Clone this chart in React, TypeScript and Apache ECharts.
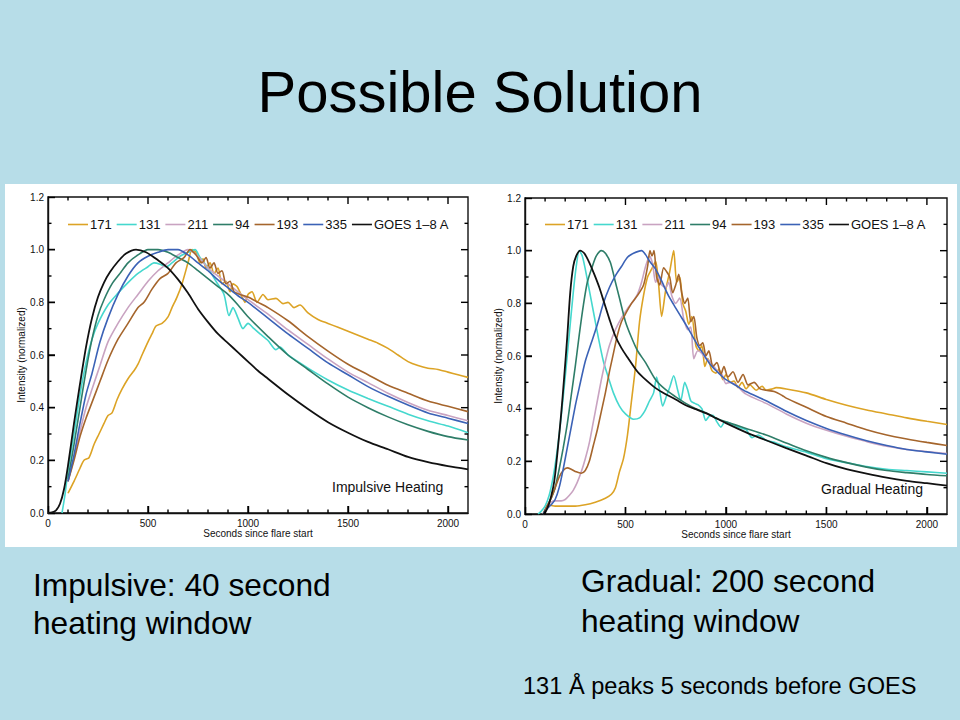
import React, { useEffect, useRef } from "react";
import * as echarts from "echarts";

// ---------- axis settings ----------
const TIME_MIN = 0;
const TIME_MAX = 2100;
const TIME_MAJOR = 500;
const INT_MIN = 0;
const INT_MAX = 1.2;
const INT_MAJOR = 0.2;
// tick marks (major every 500 s / 0.2, minor every 100 s / 0.1)
const TIME_TICKS = [100, 200, 300, 400, 500, 600, 700, 800, 900, 1000, 1100, 1200, 1300, 1400, 1500, 1600, 1700, 1800, 1900, 2000];
const INT_TICKS = [0.1, 0.2, 0.3, 0.4, 0.5, 0.6, 0.7, 0.8, 0.9, 1.0, 1.1];

// ---------- legend / series ----------
const BANDS = ["171", "131", "211", "94", "193", "335", "GOES 1–8 A"];
const BAND_COLORS = ["#DCA325", "#45D8CE", "#C9A3C1", "#2E7D68", "#A5652C", "#3B62B6", "#111111"];

// ---------- Impulsive heating (left panel) : [seconds, normalized intensity] ----------
const IMP_171 = [
  [100, 0.075], [130, 0.12], [160, 0.17], [180, 0.2], [205, 0.21], [230, 0.26], [255, 0.3], [280, 0.34],
  [300, 0.37], [320, 0.38], [345, 0.43], [370, 0.47], [400, 0.51], [430, 0.54], [450, 0.565], [470, 0.6],
  [500, 0.65], [520, 0.68], [540, 0.71], [570, 0.72], [600, 0.745], [620, 0.78], [645, 0.82], [670, 0.87],
  [700, 0.95], [720, 1.0], [740, 0.99], [760, 0.95], [775, 0.965], [790, 0.93], [810, 0.95], [830, 0.91],
  [850, 0.93], [870, 0.87], [890, 0.88], [910, 0.84], [925, 0.87], [945, 0.86], [965, 0.83], [985, 0.8],
  [1000, 0.83], [1020, 0.84], [1045, 0.8], [1075, 0.83], [1100, 0.81], [1140, 0.815], [1175, 0.795],
  [1200, 0.8], [1230, 0.78], [1260, 0.79], [1300, 0.76], [1350, 0.735], [1400, 0.72], [1450, 0.705],
  [1500, 0.69], [1550, 0.675], [1600, 0.66], [1650, 0.645], [1700, 0.625], [1750, 0.6], [1800, 0.575],
  [1850, 0.56], [1900, 0.55], [1950, 0.545], [2000, 0.535], [2050, 0.525], [2100, 0.515],
];
const IMP_131 = [
  [70, 0], [85, 0.07], [100, 0.16], [130, 0.3], [160, 0.45], [190, 0.57], [220, 0.66], [250, 0.72],
  [300, 0.79], [350, 0.835], [400, 0.875], [450, 0.91], [500, 0.935], [530, 0.95], [560, 0.945],
  [590, 0.935], [620, 0.95], [660, 0.975], [700, 0.99], [735, 1.0], [760, 0.97], [800, 0.93], [840, 0.88],
  [880, 0.83], [905, 0.75], [925, 0.78], [950, 0.74], [975, 0.7], [1000, 0.72], [1030, 0.7], [1060, 0.68],
  [1100, 0.655], [1140, 0.62], [1160, 0.63], [1200, 0.6], [1300, 0.55], [1400, 0.505], [1500, 0.467],
  [1600, 0.435], [1700, 0.405], [1800, 0.375], [1900, 0.35], [2000, 0.33], [2100, 0.305],
];
const IMP_211 = [
  [100, 0.12], [130, 0.21], [160, 0.31], [190, 0.4], [220, 0.47], [260, 0.56], [300, 0.65], [350, 0.72],
  [400, 0.78], [450, 0.83], [500, 0.88], [550, 0.92], [600, 0.95], [650, 0.98], [700, 1.0], [750, 0.975],
  [800, 0.93], [850, 0.9], [900, 0.87], [950, 0.84], [1000, 0.81], [1100, 0.755], [1200, 0.695],
  [1300, 0.64], [1400, 0.585], [1500, 0.535], [1600, 0.495], [1700, 0.455], [1800, 0.42], [1900, 0.39],
  [2000, 0.37], [2100, 0.35],
];
const IMP_94 = [
  [100, 0.13], [130, 0.26], [160, 0.4], [190, 0.54], [220, 0.66], [250, 0.75], [280, 0.81], [320, 0.87],
  [360, 0.91], [400, 0.95], [450, 0.98], [500, 1.0], [550, 1.0], [600, 0.99], [650, 0.97], [700, 0.95],
  [750, 0.92], [800, 0.89], [850, 0.86], [900, 0.83], [950, 0.79], [1000, 0.745], [1100, 0.67],
  [1200, 0.6], [1300, 0.545], [1400, 0.49], [1500, 0.44], [1600, 0.4], [1700, 0.365], [1800, 0.335],
  [1900, 0.31], [2000, 0.29], [2100, 0.277],
];
const IMP_193 = [
  [100, 0.12], [130, 0.2], [160, 0.29], [190, 0.36], [220, 0.42], [260, 0.5], [300, 0.58], [350, 0.66],
  [400, 0.72], [450, 0.78], [480, 0.8], [520, 0.85], [560, 0.89], [600, 0.91], [640, 0.95], [680, 0.97],
  [710, 1.0], [740, 0.98], [770, 0.95], [790, 0.97], [810, 0.93], [830, 0.95], [850, 0.91], [870, 0.92],
  [890, 0.87], [910, 0.88], [930, 0.84], [960, 0.83], [1000, 0.82], [1050, 0.8], [1100, 0.78],
  [1200, 0.73], [1300, 0.67], [1400, 0.615], [1500, 0.565], [1600, 0.525], [1700, 0.485], [1800, 0.455],
  [1900, 0.425], [2000, 0.405], [2100, 0.385],
];
const IMP_335 = [
  [100, 0.12], [130, 0.22], [160, 0.34], [190, 0.45], [220, 0.53], [260, 0.65], [300, 0.74], [350, 0.83],
  [400, 0.9], [450, 0.95], [500, 0.975], [550, 0.99], [600, 1.0], [650, 1.0], [700, 0.98], [750, 0.95],
  [800, 0.92], [850, 0.885], [900, 0.855], [950, 0.825], [1000, 0.8], [1100, 0.74], [1200, 0.68],
  [1300, 0.625], [1400, 0.57], [1500, 0.525], [1600, 0.48], [1700, 0.443], [1800, 0.41], [1900, 0.38],
  [2000, 0.36], [2100, 0.34],
];
const IMP_GOES = [
  [0, 0], [20, 0.002], [40, 0.01], [60, 0.035], [80, 0.09], [100, 0.18], [130, 0.34], [160, 0.49],
  [190, 0.63], [220, 0.74], [250, 0.82], [280, 0.875], [310, 0.915], [350, 0.955], [390, 0.985],
  [440, 1.0], [490, 0.99], [550, 0.96], [600, 0.93], [650, 0.887], [700, 0.835], [750, 0.775],
  [800, 0.725], [850, 0.68], [900, 0.645], [950, 0.61], [1000, 0.575], [1050, 0.54], [1100, 0.51],
  [1200, 0.45], [1300, 0.395], [1400, 0.345], [1500, 0.305], [1600, 0.27], [1700, 0.242], [1800, 0.213],
  [1900, 0.193], [2000, 0.178], [2100, 0.166],
];

// ---------- Gradual heating (right panel) ----------
const GRAD_171 = [
  [115, 0.035], [150, 0.03], [200, 0.03], [250, 0.03], [300, 0.035], [350, 0.045], [400, 0.06],
  [430, 0.075], [450, 0.1], [470, 0.16], [490, 0.21], [510, 0.3], [530, 0.43], [550, 0.56], [570, 0.73],
  [590, 0.83], [610, 0.9], [630, 0.93], [650, 0.96], [665, 0.87], [680, 0.75], [700, 0.85], [720, 0.92],
  [740, 1.0], [755, 0.88], [770, 0.9], [785, 0.8], [800, 0.77], [815, 0.72], [830, 0.75], [850, 0.64],
  [865, 0.62], [880, 0.64], [895, 0.56], [910, 0.59], [930, 0.545], [950, 0.535], [965, 0.55],
  [985, 0.51], [1000, 0.53], [1020, 0.5], [1040, 0.505], [1060, 0.48], [1080, 0.5], [1100, 0.475],
  [1120, 0.49], [1150, 0.47], [1180, 0.485], [1200, 0.47], [1230, 0.475], [1250, 0.48], [1300, 0.475],
  [1400, 0.46], [1500, 0.435], [1600, 0.413], [1700, 0.395], [1800, 0.38], [1900, 0.365], [2000, 0.352],
  [2100, 0.34],
];
const GRAD_131 = [
  [65, 0], [80, 0.01], [100, 0.03], [120, 0.07], [140, 0.14], [160, 0.24], [180, 0.37], [200, 0.52],
  [220, 0.68], [240, 0.84], [255, 0.94], [270, 1.0], [285, 0.98], [300, 0.93], [320, 0.85], [340, 0.77],
  [365, 0.67], [390, 0.58], [410, 0.53], [440, 0.46], [470, 0.41], [500, 0.38], [540, 0.36], [570, 0.365],
  [595, 0.39], [620, 0.43], [640, 0.46], [655, 0.52], [670, 0.47], [685, 0.41], [705, 0.45], [720, 0.48],
  [740, 0.525], [760, 0.47], [775, 0.43], [795, 0.5], [810, 0.47], [825, 0.43], [845, 0.42], [860, 0.415],
  [880, 0.4], [900, 0.355], [915, 0.37], [935, 0.375], [955, 0.35], [975, 0.33], [995, 0.35],
  [1020, 0.345], [1060, 0.33], [1100, 0.32], [1130, 0.29], [1160, 0.3], [1200, 0.28], [1250, 0.27],
  [1300, 0.255], [1350, 0.245], [1400, 0.235], [1500, 0.21], [1600, 0.195], [1700, 0.18], [1800, 0.17],
  [1900, 0.165], [2000, 0.16], [2100, 0.155],
];
const GRAD_211 = [
  [90, 0], [110, 0.03], [130, 0.045], [150, 0.05], [180, 0.05], [200, 0.055], [220, 0.07], [240, 0.09],
  [260, 0.12], [280, 0.16], [300, 0.21], [320, 0.27], [340, 0.35], [360, 0.43], [380, 0.51], [400, 0.58],
  [420, 0.64], [450, 0.7], [480, 0.745], [510, 0.78], [540, 0.81], [560, 0.835], [580, 0.88], [600, 0.94],
  [620, 0.98], [635, 0.95], [650, 0.88], [665, 0.9], [680, 0.87], [700, 0.86], [715, 0.88], [730, 0.83],
  [750, 0.8], [770, 0.82], [790, 0.74], [810, 0.7], [825, 0.71], [840, 0.59], [860, 0.62], [880, 0.61],
  [900, 0.59], [920, 0.58], [940, 0.56], [960, 0.54], [980, 0.53], [1000, 0.495], [1020, 0.5],
  [1050, 0.49], [1100, 0.455], [1200, 0.42], [1300, 0.38], [1400, 0.345], [1500, 0.318], [1600, 0.295],
  [1700, 0.275], [1800, 0.257], [1900, 0.245], [2000, 0.237], [2100, 0.23],
];
const GRAD_94 = [
  [90, 0], [110, 0.03], [130, 0.06], [150, 0.1], [170, 0.17], [190, 0.25], [210, 0.34], [230, 0.45],
  [250, 0.56], [270, 0.68], [290, 0.79], [310, 0.88], [335, 0.94], [355, 0.98], [380, 1.0], [400, 0.99],
  [425, 0.955], [450, 0.88], [470, 0.82], [500, 0.73], [530, 0.67], [560, 0.62], [600, 0.575], [650, 0.51],
  [700, 0.472], [750, 0.445], [800, 0.42], [850, 0.4], [900, 0.385], [950, 0.365], [1000, 0.35],
  [1100, 0.325], [1200, 0.3], [1300, 0.27], [1400, 0.24], [1500, 0.215], [1600, 0.195], [1700, 0.178],
  [1800, 0.165], [1900, 0.157], [2000, 0.15], [2100, 0.145],
];
const GRAD_193 = [
  [90, 0], [110, 0.03], [130, 0.06], [150, 0.1], [170, 0.14], [190, 0.165], [210, 0.175], [230, 0.17],
  [255, 0.16], [280, 0.155], [300, 0.165], [320, 0.2], [340, 0.26], [360, 0.32], [380, 0.39], [400, 0.46],
  [420, 0.54], [440, 0.61], [460, 0.68], [480, 0.73], [500, 0.76], [530, 0.8], [560, 0.83], [590, 0.87],
  [610, 0.94], [622, 1.0], [632, 0.98], [642, 1.0], [655, 0.9], [670, 0.87], [690, 0.935], [705, 0.92],
  [720, 0.9], [735, 0.84], [750, 0.87], [765, 0.91], [780, 0.84], [795, 0.8], [810, 0.82], [825, 0.73],
  [840, 0.75], [855, 0.67], [870, 0.64], [885, 0.65], [900, 0.6], [915, 0.62], [935, 0.56], [955, 0.575],
  [975, 0.53], [990, 0.56], [1010, 0.52], [1035, 0.54], [1060, 0.5], [1085, 0.53], [1110, 0.49],
  [1140, 0.5], [1170, 0.475], [1200, 0.47], [1240, 0.465], [1280, 0.45], [1300, 0.44], [1400, 0.405],
  [1500, 0.37], [1600, 0.345], [1700, 0.32], [1800, 0.3], [1900, 0.285], [2000, 0.272], [2100, 0.26],
];
const GRAD_335 = [
  [90, 0], [110, 0.02], [130, 0.035], [150, 0.055], [170, 0.1], [190, 0.17], [210, 0.25], [230, 0.33],
  [250, 0.41], [270, 0.48], [300, 0.58], [330, 0.65], [360, 0.72], [390, 0.8], [420, 0.86], [450, 0.905],
  [480, 0.94], [510, 0.975], [540, 0.99], [580, 1.0], [600, 0.985], [620, 0.96], [650, 0.93], [680, 0.885],
  [710, 0.835], [740, 0.795], [770, 0.757], [800, 0.72], [830, 0.68], [860, 0.64], [890, 0.605],
  [920, 0.57], [950, 0.545], [980, 0.523], [1000, 0.51], [1050, 0.488], [1100, 0.465], [1200, 0.43],
  [1300, 0.39], [1400, 0.355], [1500, 0.325], [1600, 0.3], [1700, 0.278], [1800, 0.26], [1900, 0.245],
  [2000, 0.236], [2100, 0.227],
];
const GRAD_GOES = [
  [90, 0], [100, 0.005], [120, 0.04], [140, 0.1], [150, 0.15], [165, 0.26], [180, 0.38], [195, 0.52],
  [210, 0.67], [225, 0.84], [240, 0.94], [255, 0.98], [275, 1.0], [295, 0.99], [320, 0.955], [345, 0.91],
  [370, 0.86], [395, 0.8], [420, 0.74], [450, 0.675], [480, 0.63], [510, 0.595], [560, 0.54], [600, 0.51],
  [650, 0.478], [700, 0.455], [750, 0.435], [800, 0.413], [850, 0.398], [900, 0.383], [950, 0.364],
  [1000, 0.345], [1100, 0.31], [1200, 0.28], [1300, 0.25], [1400, 0.222], [1500, 0.193], [1600, 0.17],
  [1700, 0.153], [1800, 0.138], [1900, 0.126], [2000, 0.117], [2100, 0.108],
];

const IMPULSIVE = [IMP_171, IMP_131, IMP_211, IMP_94, IMP_193, IMP_335, IMP_GOES];
const GRADUAL = [GRAD_171, GRAD_131, GRAD_211, GRAD_94, GRAD_193, GRAD_335, GRAD_GOES];

const PANEL_LABELS = ["Impulsive Heating", "Gradual Heating"];
const TITLE = "Possible Solution";
const NOTE_LEFT = ["Impulsive: 40 second", "heating window"];
const NOTE_RIGHT = ["Gradual: 200 second", "heating window"];
const FOOTNOTE = "131 Å peaks 5 seconds before GOES";

const FONT = "'Liberation Sans', Arial, Helvetica, sans-serif";
const BG = "#B7DDE8";
const INK = "#111111";

const GRIDS = [
  { left: 48, top: 197, width: 420, height: 316 },
  { left: 525, top: 198, width: 422, height: 316 },
];

const MAJOR_LEN = 7;
const MINOR_LEN = 3.5;

function tickLine(x1: number, y1: number, x2: number, y2: number) {
  return {
    type: "line",
    silent: true,
    z: 50,
    shape: { x1, y1, x2, y2 },
    style: { stroke: "#000000", lineWidth: 1.4 },
  };
}

export default function App() {
  const ref = useRef<HTMLDivElement>(null);

  useEffect(() => {
    if (!ref.current) return;
    const chart = echarts.init(ref.current, undefined, { renderer: "svg" });

    const xAxes = GRIDS.map((_, g) => ({
      type: "value",
      gridIndex: g,
      position: "bottom",
      min: TIME_MIN,
      max: TIME_MAX,
      interval: TIME_MAJOR,
      name: "Seconds since flare start",
      nameLocation: "middle",
      nameGap: 15,
      nameTextStyle: { fontFamily: FONT, fontSize: 10, color: INK },
      axisLine: { show: true, onZero: false, lineStyle: { color: INK, width: 1.4 } },
      axisTick: { show: true, inside: true, length: MAJOR_LEN, lineStyle: { color: "#000000", width: 1.4 } },
      axisLabel: {
        show: true,
        margin: 5,
        showMaxLabel: false,
        fontFamily: FONT,
        fontSize: 10,
        color: INK,
        formatter: (v: number) => (v > 2000 ? "" : String(v)),
      },
      splitLine: { show: false },
    }));

    const yAxes = GRIDS.map((_, g) => ({
      type: "value",
      gridIndex: g,
      position: "left",
      min: INT_MIN,
      max: INT_MAX,
      interval: INT_MAJOR,
      name: "Intensity (normalized)",
      nameLocation: "middle",
      nameGap: 22,
      nameTextStyle: { fontFamily: FONT, fontSize: 10, color: INK },
      axisLine: { show: true, onZero: false, lineStyle: { color: INK, width: 1.4 } },
      axisTick: { show: true, inside: true, length: MAJOR_LEN, lineStyle: { color: "#000000", width: 1.4 } },
      axisLabel: {
        show: true,
        margin: 4,
        fontFamily: FONT,
        fontSize: 10,
        color: INK,
        formatter: (v: number) => v.toFixed(1),
      },
      splitLine: { show: false },
    }));

    const series: any[] = [];
    [IMPULSIVE, GRADUAL].forEach((panel, g) => {
      panel.forEach((data, i) => {
        series.push({
          type: "line",
          name: BANDS[i],
          xAxisIndex: g,
          yAxisIndex: g,
          data,
          symbol: "none",
          smooth: 0.25,
          lineStyle: { color: BAND_COLORS[i], width: i === 6 ? 1.8 : 1.6 },
          itemStyle: { color: BAND_COLORS[i] },
        });
      });
    });

    const legendBase = {
      top: 218,
      orient: "horizontal",
      icon: "rect",
      itemWidth: 20,
      itemHeight: 1.6,
      itemGap: 5,
      padding: 0,
      data: BANDS,
      textStyle: { fontFamily: FONT, fontSize: 13, color: INK, padding: [0, 0, 0, -3] },
    };

    const baseGraphic: any[] = [
      {
        type: "text",
        x: 480,
        y: 91,
        style: { text: TITLE, fontFamily: FONT, fontSize: 58, fill: "#000", align: "center", verticalAlign: "middle" },
      },
      {
        type: "text",
        x: 332,
        y: 487,
        style: { text: PANEL_LABELS[0], fontFamily: FONT, fontSize: 14, fill: INK, verticalAlign: "middle" },
      },
      {
        type: "text",
        x: 821,
        y: 489,
        style: { text: PANEL_LABELS[1], fontFamily: FONT, fontSize: 14, fill: INK, verticalAlign: "middle" },
      },
      ...NOTE_LEFT.map((t, i) => ({
        type: "text",
        x: 33,
        y: 585 + i * 38,
        style: { text: t, fontFamily: FONT, fontSize: 31.7, fill: "#000", verticalAlign: "middle" },
      })),
      ...NOTE_RIGHT.map((t, i) => ({
        type: "text",
        x: 581,
        y: 581 + i * 40,
        style: { text: t, fontFamily: FONT, fontSize: 31.7, fill: "#000", verticalAlign: "middle" },
      })),
      {
        type: "text",
        x: 523,
        y: 686,
        style: { text: FOOTNOTE, fontFamily: FONT, fontSize: 23.6, fill: "#000", verticalAlign: "middle" },
      },
    ];

    const option: any = {
      animation: false,
      backgroundColor: "transparent",
      grid: GRIDS.map((g) => ({
        ...g,
        containLabel: false,
        show: true,
        backgroundColor: "transparent",
        borderColor: INK,
        borderWidth: 1.4,
      })),
      xAxis: xAxes,
      yAxis: yAxes,
      legend: [
        { ...legendBase, left: 68 },
        { ...legendBase, left: 545 },
      ],
      series,
      graphic: baseGraphic,
    };

    chart.setOption(option);

    // inward tick marks on all four sides, placed through the axes' own scales
    const ticks: any[] = [];
    GRIDS.forEach((_, g) => {
      const finder = { xAxisIndex: g, yAxisIndex: g };
      TIME_TICKS.forEach((t) => {
        const len = t % TIME_MAJOR === 0 ? MAJOR_LEN : MINOR_LEN;
        const b = chart.convertToPixel(finder, [t, INT_MIN]) as number[];
        const tp = chart.convertToPixel(finder, [t, INT_MAX]) as number[];
        ticks.push(tickLine(b[0], b[1], b[0], b[1] - len));
        ticks.push(tickLine(tp[0], tp[1], tp[0], tp[1] + len));
      });
      INT_TICKS.forEach((v) => {
        const len = Math.round(v * 10) % 2 === 0 ? MAJOR_LEN : MINOR_LEN;
        const l = chart.convertToPixel(finder, [TIME_MIN, v]) as number[];
        const r = chart.convertToPixel(finder, [TIME_MAX, v]) as number[];
        ticks.push(tickLine(l[0], l[1], l[0] + len, l[1]));
        ticks.push(tickLine(r[0], r[1], r[0] - len, r[1]));
      });
    });
    chart.setOption({ graphic: [...baseGraphic, ...ticks] });

    return () => chart.dispose();
  }, []);

  return (
    <div style={{ position: "fixed", left: 0, top: 0, width: 960, height: 720, background: BG }}>
      <div
        style={{ position: "absolute", left: 5, top: 184, width: 952, height: 363, background: "#FFFFFF" }}
      />
      <div ref={ref} style={{ position: "absolute", left: 0, top: 0, width: 960, height: 720 }} />
    </div>
  );
}
